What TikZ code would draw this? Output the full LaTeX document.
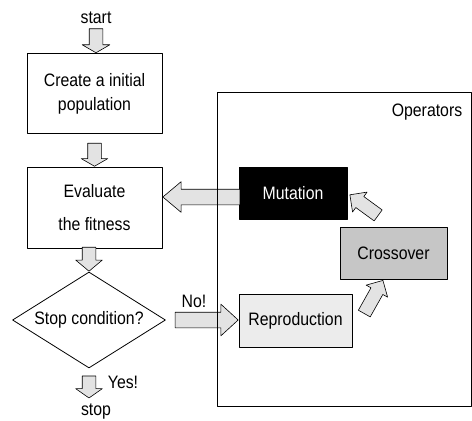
\documentclass[tikz,border=0pt]{standalone}
\usepackage{fontspec}
\setmainfont{Liberation Sans}[FakeStretch=0.88]
\usetikzlibrary{shapes.geometric,shapes.arrows,calc}

\tikzset{
  stepbox/.style={draw, line width=0.8pt, minimum width=135pt, minimum height=80pt, align=center, inner sep=0pt},
  opbox/.style={draw, line width=0.8pt, minimum width=108pt, minimum height=52pt, inner sep=0pt},
  fatarrow/.style={single arrow, draw, line width=0.6pt, fill=gray!22, inner xsep=0pt, inner ysep=6.5pt,
    single arrow head extend=6.5pt, single arrow tip angle=120, sloped, allow upside down,
    anchor=tip, pos=1, minimum height=#1},
}

\begin{document}
\begin{tikzpicture}[line cap=round,line join=round,x=1pt,y=-1pt,font=\fontsize{18pt}{21pt}\selectfont]
\useasboundingbox (0,0) rectangle (472,421);
% flow on the left
\node (start) at (96,18) {start};
\node[stepbox] (create) at (94.5,93.5) {Create a initial\\[3pt]population};
\node[stepbox, minimum height=81pt] (eval) at (94.5,207.5) {Evaluate\\[12pt]the fitness};
\node[diamond, draw, line width=0.8pt, inner sep=0pt, minimum width=153pt, minimum height=96pt, shape aspect=1.6] (cond) at (89,320) {Stop condition?};
\node (stop) at (96,412) {stop};
\node (yes) at (123,382) {Yes!};
\node (no) at (194,301) {No!};
% operators
\node[opbox, fill=black, text=white] (mut) at (293,193) {Mutation};
\node[opbox, minimum width=107pt, fill=gray!45] (cross) at (393.5,253) {Crossover};
\node[opbox, minimum width=113pt, minimum height=53pt, fill=gray!15] (repro) at (295.5,320.5) {Reproduction};
\node (ops) at (427,112) {Operators};
\coordinate (mutin) at ([yshift=-4pt]mut.west);
% block arrows
\path (start) -- node[fatarrow=24pt, single arrow head extend=7pt] (a1) {} (start |- create.north);
\path (create.south) -- node[fatarrow=23pt] (a2) {} (eval.north);
\path (cond.north |- eval.south) -- node[fatarrow=24pt, single arrow tip angle=100] (a3) {} (cond.north);
\path (cond.south) -- node[fatarrow=22pt, pos=0.5, anchor=center, single arrow tip angle=110] (a4) {} (cond.south |- stop.north);
\path (cond.east) -- node[fatarrow=63pt, inner ysep=7.5pt, single arrow head extend=8pt, single arrow tip angle=85] (a5) {} (cond.east -| repro.west);
\path (mutin) -- node[fatarrow=77pt, inner ysep=7.5pt, single arrow head extend=7.5pt, single arrow tip angle=80] (a6) {} (mutin -| eval.east);
\path (cross.north) -- node[fatarrow=35pt, pos=0.58, anchor=center, inner ysep=6.5pt, single arrow head extend=5.5pt, single arrow tip angle=90] (a7) {} (mut.east);
\path ([xshift=8pt]repro.east) -- node[fatarrow=38pt, pos=0.5, anchor=center, inner ysep=6.5pt, single arrow head extend=5.5pt, single arrow tip angle=90] (a8) {} ([xshift=-10pt]cross.south);
% frame round the operators
\node[draw, line width=0.8pt, inner sep=0pt, minimum width=254pt, minimum height=314pt] (opframe) at (344,249) {};
\end{tikzpicture}
\end{document}
